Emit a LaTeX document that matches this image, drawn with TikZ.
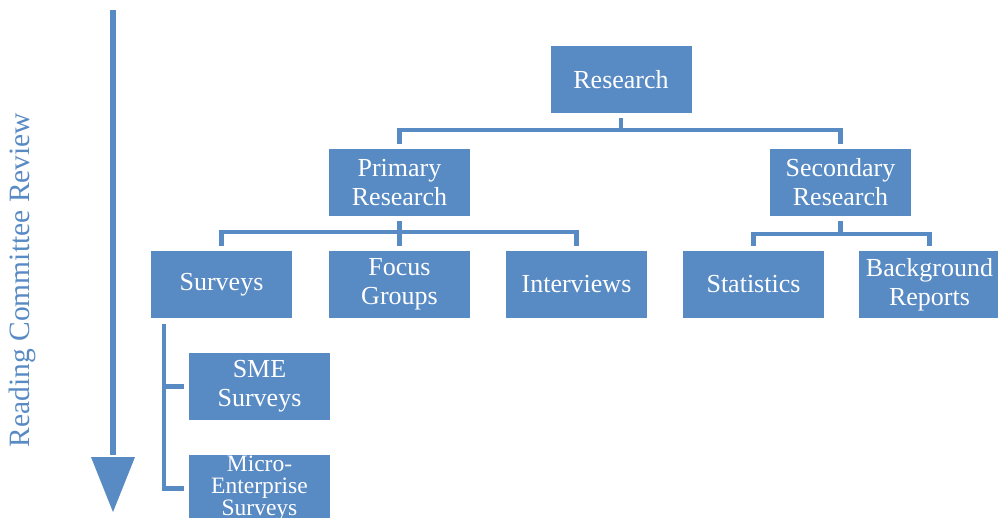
\documentclass[tikz,border=0pt]{standalone}
\usepackage{fontspec}
\setmainfont{Liberation Serif}
\usetikzlibrary{calc}
\definecolor{boxblue}{RGB}{88,138,196}
\tikzset{
  box/.style={fill=boxblue, text=white, minimum width=141pt, minimum height=67pt,
    inner sep=0pt, align=center, font=\fontsize{26}{29}\selectfont},
  smallbox/.style={box, font=\fontsize{23.5}{22}\selectfont},
  conn/.style={draw=boxblue, line width=4.5pt}
}
\begin{document}
\begin{tikzpicture}[x=1pt,y=-1pt]
\useasboundingbox (0,0) rectangle (998,517);
\clip (0,0) rectangle (998,517);
\fill[white] (0,0) rectangle (998,517);
% nodes
\node[box] (R)  at (621,79.5)   {Research};
\node[box] (P)  at (399.5,182.5) {Primary\\Research};
\node[box] (S)  at (840.5,182.5) {Secondary\\Research};
\node[box] (Su) at (221.5,284.5) {Surveys};
\node[box] (F)  at (399.5,284.5) {Focus\\Groups};
\node[box] (I)  at (576.5,284.5) {Interviews};
\node[box] (St) at (753.5,284.5) {Statistics};
\node[box] (B)  at (929.5,284.5) {Background\\Reports};
\node[box] (SME) at (259.5,386.5) {SME\\Surveys};
\node[smallbox] (M) at (259.5,488.5) {Micro-\\Enterprise\\Surveys};
% connectors
\draw[conn] ([yshift=-5pt]R.south) -- ([yshift=-17pt]R.south);
\draw[conn] ([yshift=5pt]P.north) |- ([yshift=-17pt]R.south) -| ([yshift=5pt]S.north);
\draw[conn] ([yshift=-5pt]P.south) -- ([yshift=-16pt]P.south);
\draw[conn] ([yshift=5pt]Su.north) |- ([yshift=-16pt]P.south) -| ([yshift=5pt]I.north);
\draw[conn] ([yshift=-16pt]P.south) -- ([yshift=5pt]F.north);
\draw[conn] ([yshift=-5pt]S.south) -- ([yshift=-18pt]S.south);
\draw[conn] ([yshift=5pt]St.north) |- ([yshift=-18pt]S.south) -| ([yshift=5pt]B.north);
\coordinate (btop) at ($(Su.south west)+(13,6)$);
\draw[conn] (btop) |- ([xshift=-5pt]M.west);
\draw[conn] (btop |- SME.west) -- ([xshift=-5pt]SME.west);
% review arrow
\coordinate (atop) at (113,10);
\coordinate (abase) at (113,457);
\coordinate (atip) at (113,512);
\draw[draw=boxblue, line width=5.5pt] (atop) -- ([yshift=2pt]abase);
\fill[boxblue] ($(abase)+(-22,0)$) -- ($(abase)+(22,0)$) -- (atip) -- cycle;
\node[rotate=90, text=boxblue, font=\fontsize{29.5}{32}\selectfont, inner sep=0pt] (rev) at (22,280) {Reading Committee Review};
\end{tikzpicture}
\end{document}
